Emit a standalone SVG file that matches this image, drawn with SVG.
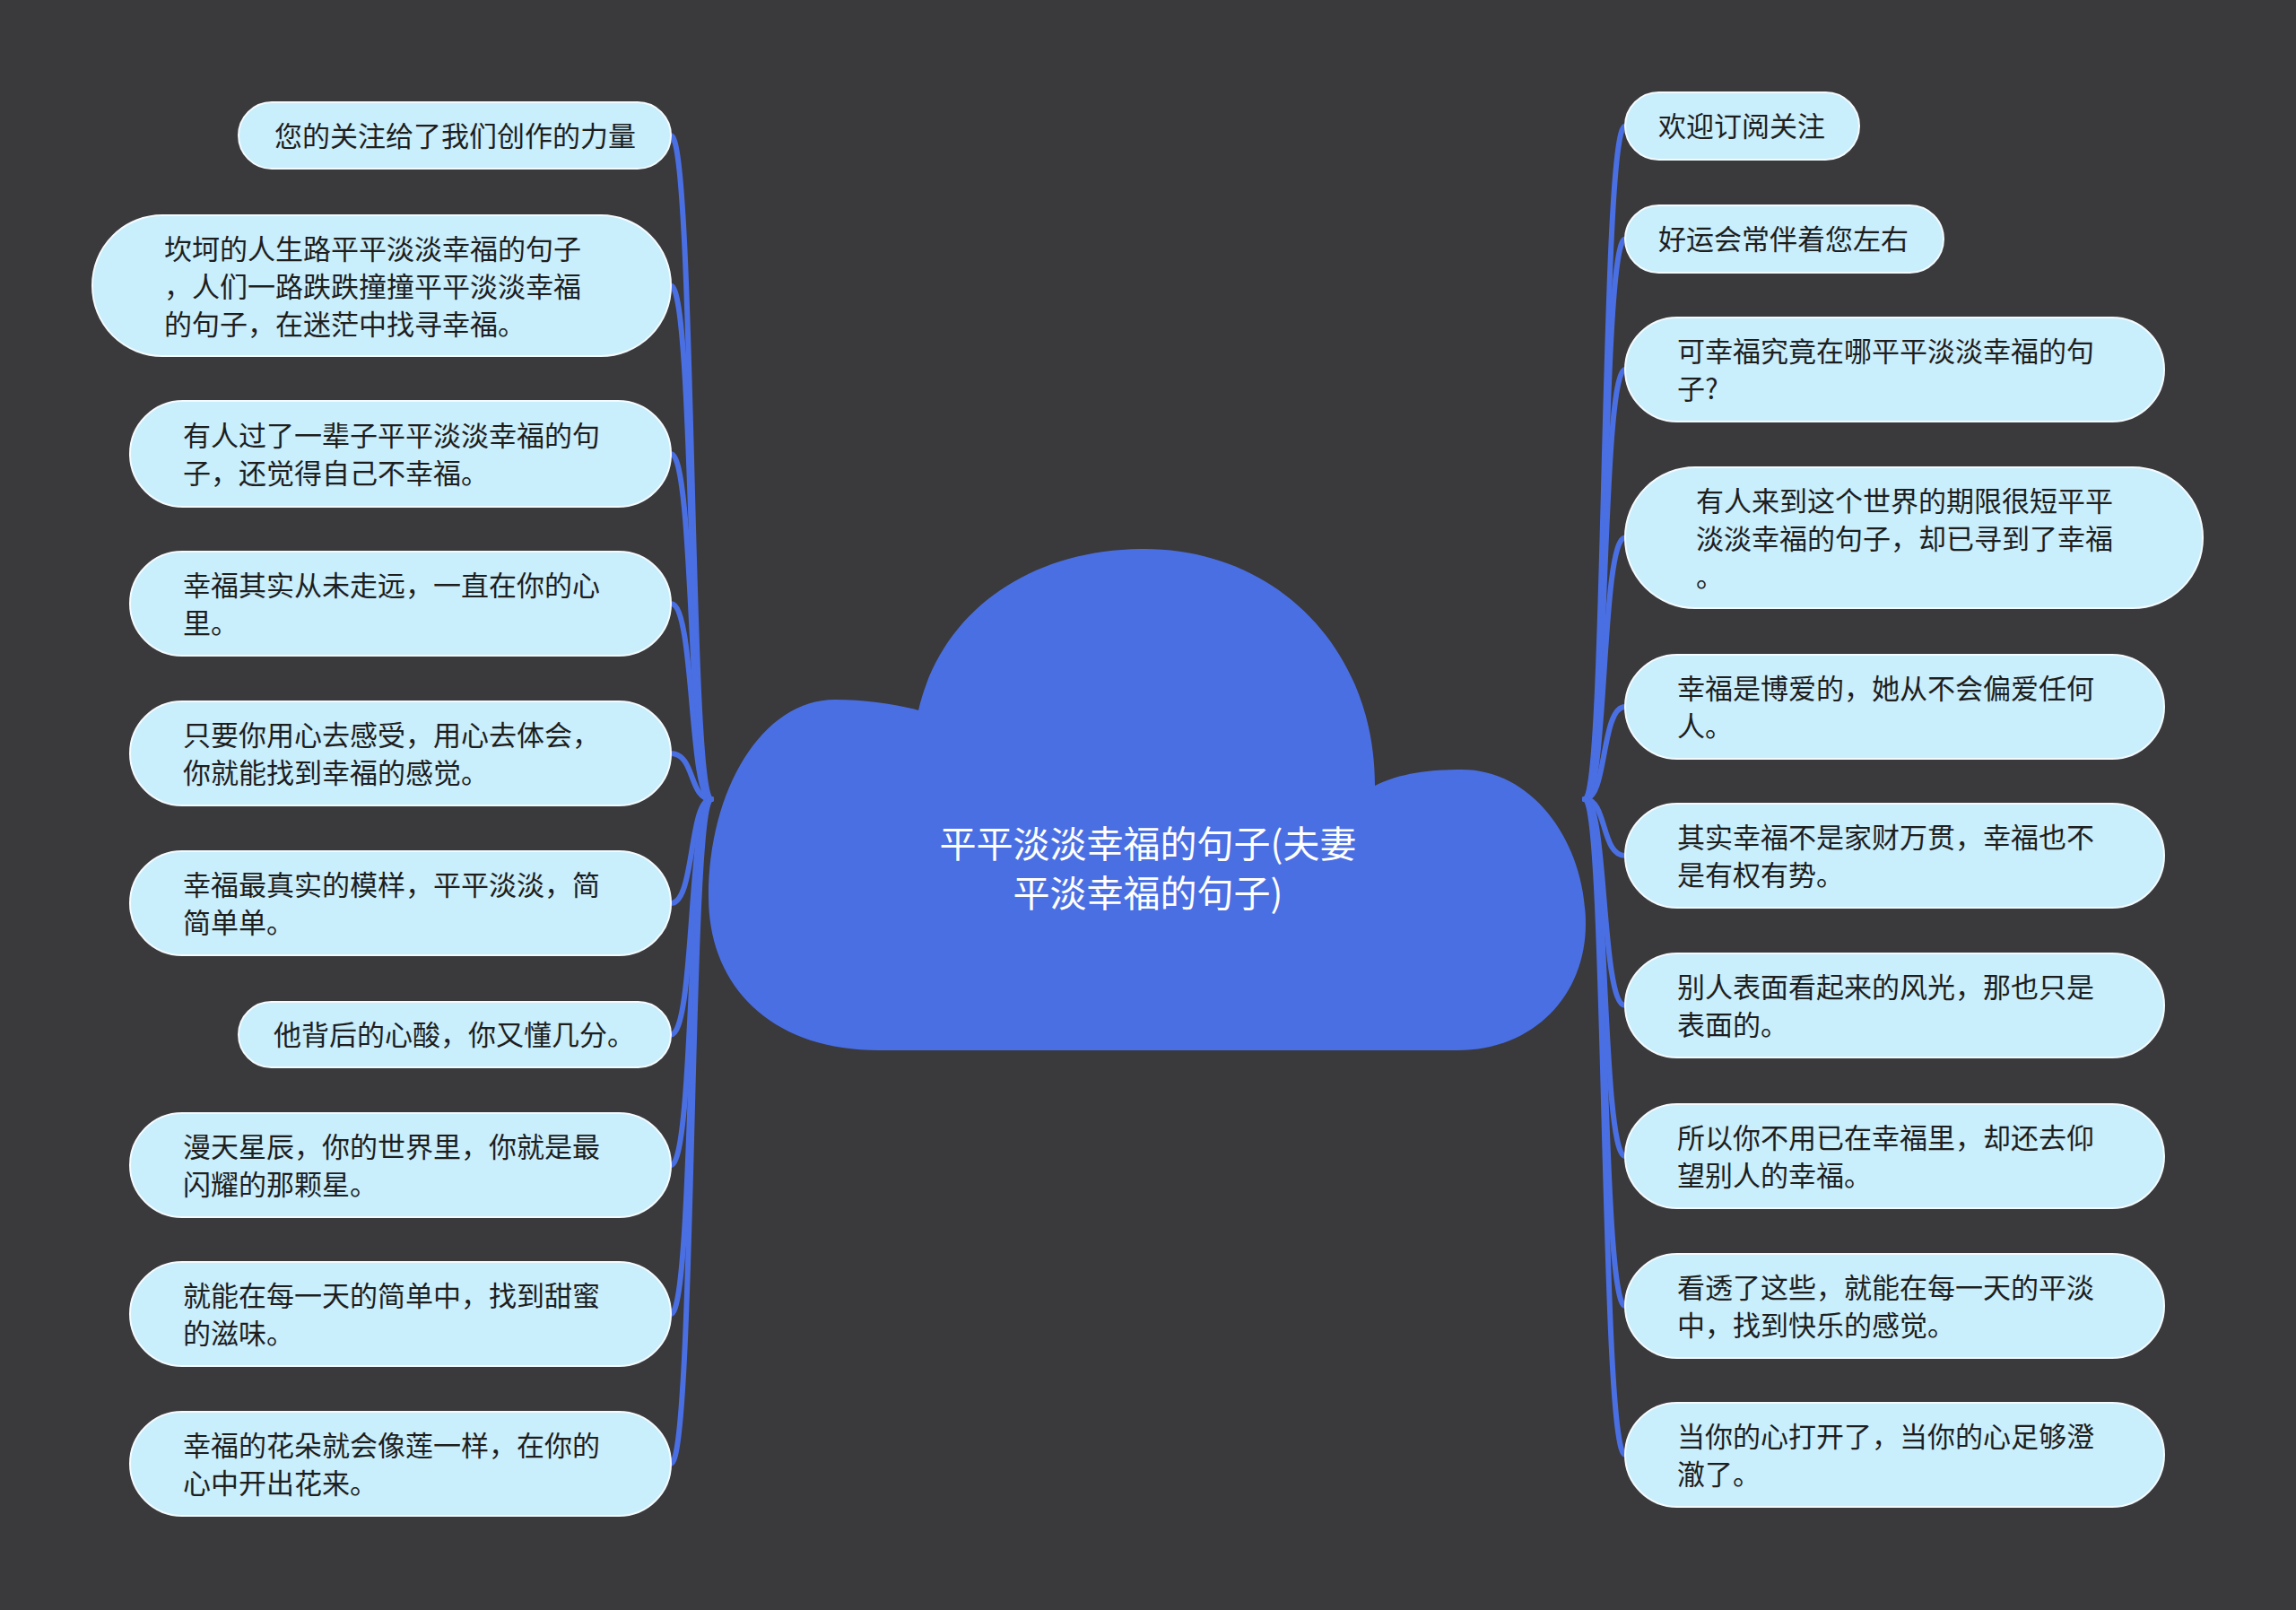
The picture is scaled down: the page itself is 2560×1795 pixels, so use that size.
<svg xmlns="http://www.w3.org/2000/svg" width="2560" height="1795" viewBox="0 0 2560 1795">
<style>
.bg{fill:#3a393b}
.node rect{fill:#c9eefc;stroke:#f4fbff;stroke-width:2}
.node text{font-family:"Noto Sans CJK SC","Noto Sans",sans-serif;font-size:31px;fill:#1e1e1e;dominant-baseline:central}
.conn path{fill:none;stroke:#4a6fe3;stroke-width:6;stroke-linecap:round}
.center text{font-family:"Noto Sans CJK SC","Noto Sans",sans-serif;font-size:41px;fill:#ffffff;text-anchor:middle;dominant-baseline:central}
</style>
<rect class="bg" x="0" y="0" width="2560" height="1795"/>
<g id="connectors" class="conn">
<path d="M748 151 C775 151 768 891 793 891"/>
<path d="M748 318.5 C775 318.5 768 891 793 891"/>
<path d="M748 506 C775 506 768 891 793 891"/>
<path d="M748 673 C775 673 768 891 793 891"/>
<path d="M748 840 C775 840 768 891 793 891"/>
<path d="M748 1007 C775 1007 768 891 793 891"/>
<path d="M748 1153.5 C775 1153.5 768 891 793 891"/>
<path d="M748 1299 C775 1299 768 891 793 891"/>
<path d="M748 1465 C775 1465 768 891 793 891"/>
<path d="M748 1632 C775 1632 768 891 793 891"/>
<path d="M1812 140.5 C1785 140.5 1792 891 1767 891"/>
<path d="M1812 266.5 C1785 266.5 1792 891 1767 891"/>
<path d="M1812 412 C1785 412 1792 891 1767 891"/>
<path d="M1812 599.5 C1785 599.5 1792 891 1767 891"/>
<path d="M1812 788 C1785 788 1792 891 1767 891"/>
<path d="M1812 954 C1785 954 1792 891 1767 891"/>
<path d="M1812 1121 C1785 1121 1792 891 1767 891"/>
<path d="M1812 1289 C1785 1289 1792 891 1767 891"/>
<path d="M1812 1456 C1785 1456 1792 891 1767 891"/>
<path d="M1812 1622 C1785 1622 1792 891 1767 891"/>
</g>
<g id="center" class="center">
<path d="M980 1171 C860 1171 790 1100 790 1000 C790 880 850 780 931 780 C965 780 1000 785 1024 792 C1050 680 1150 612 1276 612 C1420 612 1533 720 1533 876 C1560 862 1595 858 1630 858 C1710 858 1768 940 1768 1030 C1768 1110 1710 1171 1625 1171 Z" fill="#4a6fe3"/>
<text x="1280" y="938">平平淡淡幸福的句子(夫妻</text>
<text x="1280" y="993">平淡幸福的句子)</text>
</g>
<g id="L1" class="node"><rect x="266" y="114" width="482" height="74" rx="37"/><text x="306" y="149">您的关注给了我们创作的力量</text></g>
<g id="L2" class="node"><rect x="103" y="240" width="645" height="157" rx="78"/><text x="183" y="275">坎坷的人生路平平淡淡幸福的句子</text><text x="183" y="317">，人们一路跌跌撞撞平平淡淡幸福</text><text x="183" y="359">的句子，在迷茫中找寻幸福。</text></g>
<g id="L3" class="node"><rect x="145" y="447" width="603" height="118" rx="59"/><text x="204" y="483">有人过了一辈子平平淡淡幸福的句</text><text x="204" y="525">子，还觉得自己不幸福。</text></g>
<g id="L4" class="node"><rect x="145" y="615" width="603" height="116" rx="58"/><text x="204" y="650">幸福其实从未走远，一直在你的心</text><text x="204" y="692">里。</text></g>
<g id="L5" class="node"><rect x="145" y="782" width="603" height="116" rx="58"/><text x="204" y="817">只要你用心去感受，用心去体会，</text><text x="204" y="859">你就能找到幸福的感觉。</text></g>
<g id="L6" class="node"><rect x="145" y="949" width="603" height="116" rx="58"/><text x="204" y="984">幸福最真实的模样，平平淡淡，简</text><text x="204" y="1026">简单单。</text></g>
<g id="L7" class="node"><rect x="266" y="1117" width="482" height="73" rx="36.5"/><text x="305" y="1151.5">他背后的心酸，你又懂几分。</text></g>
<g id="L8" class="node"><rect x="145" y="1241" width="603" height="116" rx="58"/><text x="204" y="1276">漫天星辰，你的世界里，你就是最</text><text x="204" y="1318">闪耀的那颗星。</text></g>
<g id="L9" class="node"><rect x="145" y="1407" width="603" height="116" rx="58"/><text x="204" y="1442">就能在每一天的简单中，找到甜蜜</text><text x="204" y="1484">的滋味。</text></g>
<g id="L10" class="node"><rect x="145" y="1574" width="603" height="116" rx="58"/><text x="204" y="1609">幸福的花朵就会像莲一样，在你的</text><text x="204" y="1651">心中开出花来。</text></g>
<g id="R1" class="node"><rect x="1812" y="103" width="261" height="75" rx="37.5"/><text x="1849" y="138.5">欢迎订阅关注</text></g>
<g id="R2" class="node"><rect x="1812" y="229" width="355" height="75" rx="37.5"/><text x="1849" y="264.5">好运会常伴着您左右</text></g>
<g id="R3" class="node"><rect x="1812" y="354" width="601" height="116" rx="58"/><text x="1870" y="389">可幸福究竟在哪平平淡淡幸福的句</text><text x="1870" y="431">子?</text></g>
<g id="R4" class="node"><rect x="1812" y="521" width="644" height="157" rx="78"/><text x="1891" y="556">有人来到这个世界的期限很短平平</text><text x="1891" y="598">淡淡幸福的句子，却已寻到了幸福</text><text x="1891" y="640">。</text></g>
<g id="R5" class="node"><rect x="1812" y="730" width="601" height="116" rx="58"/><text x="1870" y="765">幸福是博爱的，她从不会偏爱任何</text><text x="1870" y="807">人。</text></g>
<g id="R6" class="node"><rect x="1812" y="896" width="601" height="116" rx="58"/><text x="1870" y="931">其实幸福不是家财万贯，幸福也不</text><text x="1870" y="973">是有权有势。</text></g>
<g id="R7" class="node"><rect x="1812" y="1063" width="601" height="116" rx="58"/><text x="1870" y="1098">别人表面看起来的风光，那也只是</text><text x="1870" y="1140">表面的。</text></g>
<g id="R8" class="node"><rect x="1812" y="1231" width="601" height="116" rx="58"/><text x="1870" y="1266">所以你不用已在幸福里，却还去仰</text><text x="1870" y="1308">望别人的幸福。</text></g>
<g id="R9" class="node"><rect x="1812" y="1398" width="601" height="116" rx="58"/><text x="1870" y="1433">看透了这些，就能在每一天的平淡</text><text x="1870" y="1475">中，找到快乐的感觉。</text></g>
<g id="R10" class="node"><rect x="1812" y="1564" width="601" height="116" rx="58"/><text x="1870" y="1599">当你的心打开了，当你的心足够澄</text><text x="1870" y="1641">澈了。</text></g>
</svg>
